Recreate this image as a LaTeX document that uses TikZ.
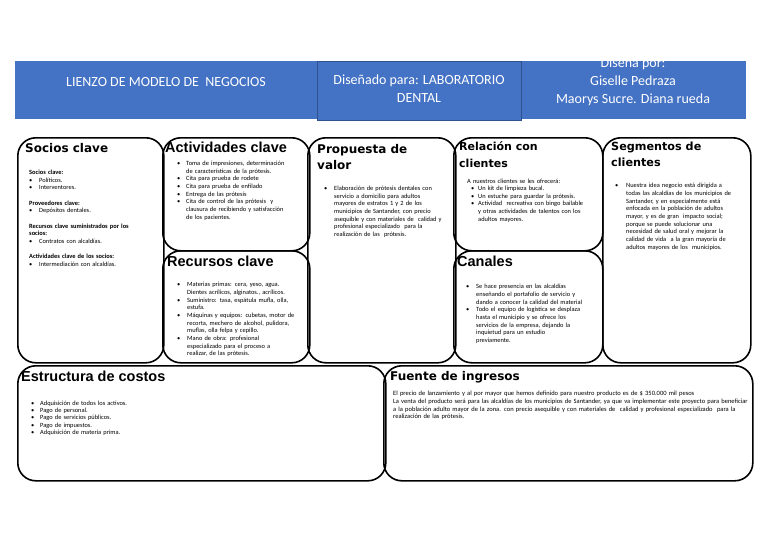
\documentclass[tikz,border=0pt]{standalone}
\usepackage{fontspec}
\setmainfont{Carlito}
\newfontfamily\dejavu{DejaVu Sans}
\newfontfamily\arialfont{Liberation Sans}
\usepackage{tikz}
\usetikzlibrary{positioning}
\definecolor{headblue}{RGB}{68,114,196}
\definecolor{headedge}{RGB}{47,82,143}
% bullet line with hanging indent
\newcommand\bul[1][10pt]{\par\hangindent=#1\hangafter=1\noindent\makebox[#1][l]{\textbullet}\ignorespaces}

\begin{document}
\begin{tikzpicture}[x=1pt,y=-1pt,
  card/.style={draw,line width=1.6pt,rounded corners=18pt,anchor=north west,inner sep=0pt},
  headcell/.style={fill=headblue,anchor=north west,inner sep=0pt},
  headtext/.style={anchor=north,inner sep=0pt,text=white,align=center,
    font=\fontsize{14}{18}\selectfont},
  titleA/.style={anchor=north west,inner sep=0pt,align=left,
    font=\dejavu\bfseries\fontsize{12}{16.5}\selectfont},
  titleB/.style={anchor=north west,inner sep=0pt,
    font=\arialfont\bfseries\fontsize{14.5}{17}\selectfont},
  body/.style={anchor=north west,inner sep=0pt,align=left,text width=200pt,
    font=\fontsize{6.4}{7.65}\selectfont}]
  \useasboundingbox (0,0) rectangle (768,543);

  % header
  \node[headcell,minimum width=302pt,minimum height=58pt] (lienzo) at (15,61) {};
  \node[headcell,minimum width=225pt,minimum height=58pt] (autores) at (521,61) {};
  \node[headcell,draw=headedge,line width=0.6pt,minimum width=204pt,minimum height=59pt] (disenado) at (317,61) {};
  \node[headtext] (lienzotxt) at (166,77) {LIENZO DE MODELO DE\ \ NEGOCIOS};
  \node[headtext] (disenadotxt) at (419,75) {Diseñado para: LABORATORIO\\DENTAL};
  \node[headtext] (autorestxt) at (633,58) {Diseña por:\\Giselle Pedraza\\Maorys Sucre. Diana rueda};

  % blocks of the canvas
  \foreach \name/\x/\y/\w/\h in {socios/17/137/146/225, actividades/162/137/147/113,
      recursos/162/250/147/112, propuesta/307/137/148/225, relacion/453/137/149/113,
      canales/453/250/149/112, segmentos/602/137/148/225,
      costos/17/365/368/115, ingresos/383/365/369/115}
    \node[card,minimum width=\w pt,minimum height=\h pt] (\name) at (\x,\y) {};

  % titles
  \node[titleA] (sociostit) at (25,143) {Socios clave};
  \node[titleB] (actividadestit) at (165,142) {Actividades clave};
  \node[titleA] (propuestatit) at (317,144) {Propuesta de\\valor};
  \node[titleA,font=\dejavu\bfseries\fontsize{11}{17}\selectfont] (relaciontit) at (459,142) {Relación con\\clientes};
  \node[titleA,font=\dejavu\bfseries\fontsize{11.2}{16}\selectfont] (segmentostit) at (611,142) {Segmentos de\\clientes};
  \node[titleB] (recursostit) at (167,256) {Recursos clave};
  \node[titleB] (canalestit) at (457,256) {Canales};
  \node[titleB] (costostit) at (21,371) {Estructura de costos};
  \node[titleA] (ingresostit) at (390,371) {Fuente de ingresos};

  % texts
  \node[body] (sociostxt) at (29,170) {\noindent\textbf{Socios clave:}
    \bul Políticos.
    \bul Interventores.
    \par\vspace{7.65pt}\noindent\textbf{Proveedores clave:}
    \bul Depósitos dentales.
    \par\vspace{7.65pt}\noindent\textbf{Recursos clave suministrados por los\newline socios:}
    \bul Contratos con alcaldías.
    \par\vspace{7.65pt}\noindent\textbf{Actividades clave de los socios:}
    \bul Intermediación con alcaldías.\par};
  \node[body] (actividadestxt) at (177,157.7) {\bul[9pt] Toma de impresiones, determinación\newline de características de la prótesis.
    \bul[9pt] Cita para prueba de rodete
    \bul[9pt] Cita para prueba de enfilado
    \bul[9pt] Entrega de las prótesis
    \bul[9pt] Cita de control de las prótesis\ \ y\newline clausura de recibiendo y satisfacción\newline de los pacientes.\par};
  \node[body] (propuestatxt) at (324,182.7) {\bul Elaboración de prótesis dentales con\newline
    servicio a domicilio para adultos\newline mayores de estratos 1 y 2 de los\newline
    municipios de Santander, con precio\newline asequible y con materiales de\ \ calidad y\newline
    profesional especializado\ \ para la\newline realización de las\ \ prótesis.\par};
  \node[body] (relaciontxt) at (471,178.4) {\noindent\hspace*{-4pt}A nuestros clientes se les ofrecerá:
    \bul[7pt] Un kit de limpieza bucal.
    \bul[7pt] Un estuche para guardar la prótesis.
    \bul[7pt] Actividad\ \ recreativa con bingo bailable\newline y otras actividades de talentos con los\newline adultos mayores.\par};
  \node[body] (segmentostxt) at (615,180) {\bul[11pt] Nuestra idea negocio está dirigida a\newline
    todas las alcaldías de los municipios de\newline Santander, y en especialmente está\newline
    enfocada en la población de adultos\newline mayor, y es de gran\ \ impacto social;\newline
    porque se puede solucionar una\newline necesidad de salud oral y mejorar la\newline
    calidad de vida\ \ a la gran mayoría de\newline adultos mayores de los\ \ municipios.\par};
  \node[body] (recursostxt) at (177,279) {\bul Materias primas: cera, yeso, agua.\newline Dientes acrílicos, alginatos., acrílicos.
    \bul Suministro: tasa, espátula mufla, olla,\newline estufa.
    \bul Máquinas y equipos: cubetas, motor de\newline recorta, mechero de alcohol, pulidora,\newline muflas, olla felpa y cepillo.
    \bul Mano de obra: profesional\newline especializado para el proceso a\newline realizar, de las prótesis.\par};
  \node[body] (canalestxt) at (466,281) {\bul Se hace presencia en las alcaldías\newline enseñando el portafolio de servicio y\newline dando a conocer la calidad del material
    \bul Todo el equipo de logística se desplaza\newline hasta el municipio y se ofrece los\newline servicios de la empresa, dejando la\newline inquietud para un estudio\newline previamente.\par};
  \node[body,font=\fontsize{6.4}{7.4}\selectfont] (costostxt) at (31,397.4) {\bul[9pt] Adquisición de todos los activos.
    \bul[9pt] Pago de personal.
    \bul[9pt] Pago de servicios públicos.
    \bul[9pt] Pago de impuestos.
    \bul[9pt] Adquisición de materia prima.\par};
  \node[body,text width=420pt,font=\fontsize{6.5}{7.7}\selectfont] (ingresostxt) at (393,391) {El precio de lanzamiento y al por mayor que hemos definido para nuestro producto es de \$ 350.000 mil pesos\newline
    La venta del producto será para las alcaldías de los municipios de Santander, ya que va implementar este proyecto para beneficiar\newline
    a la población adulto mayor de la zona. con precio asequible y con materiales de\ \ calidad y profesional especializado\ \ para la\newline
    realización de las prótesis.\par};
\end{tikzpicture}
\end{document}
